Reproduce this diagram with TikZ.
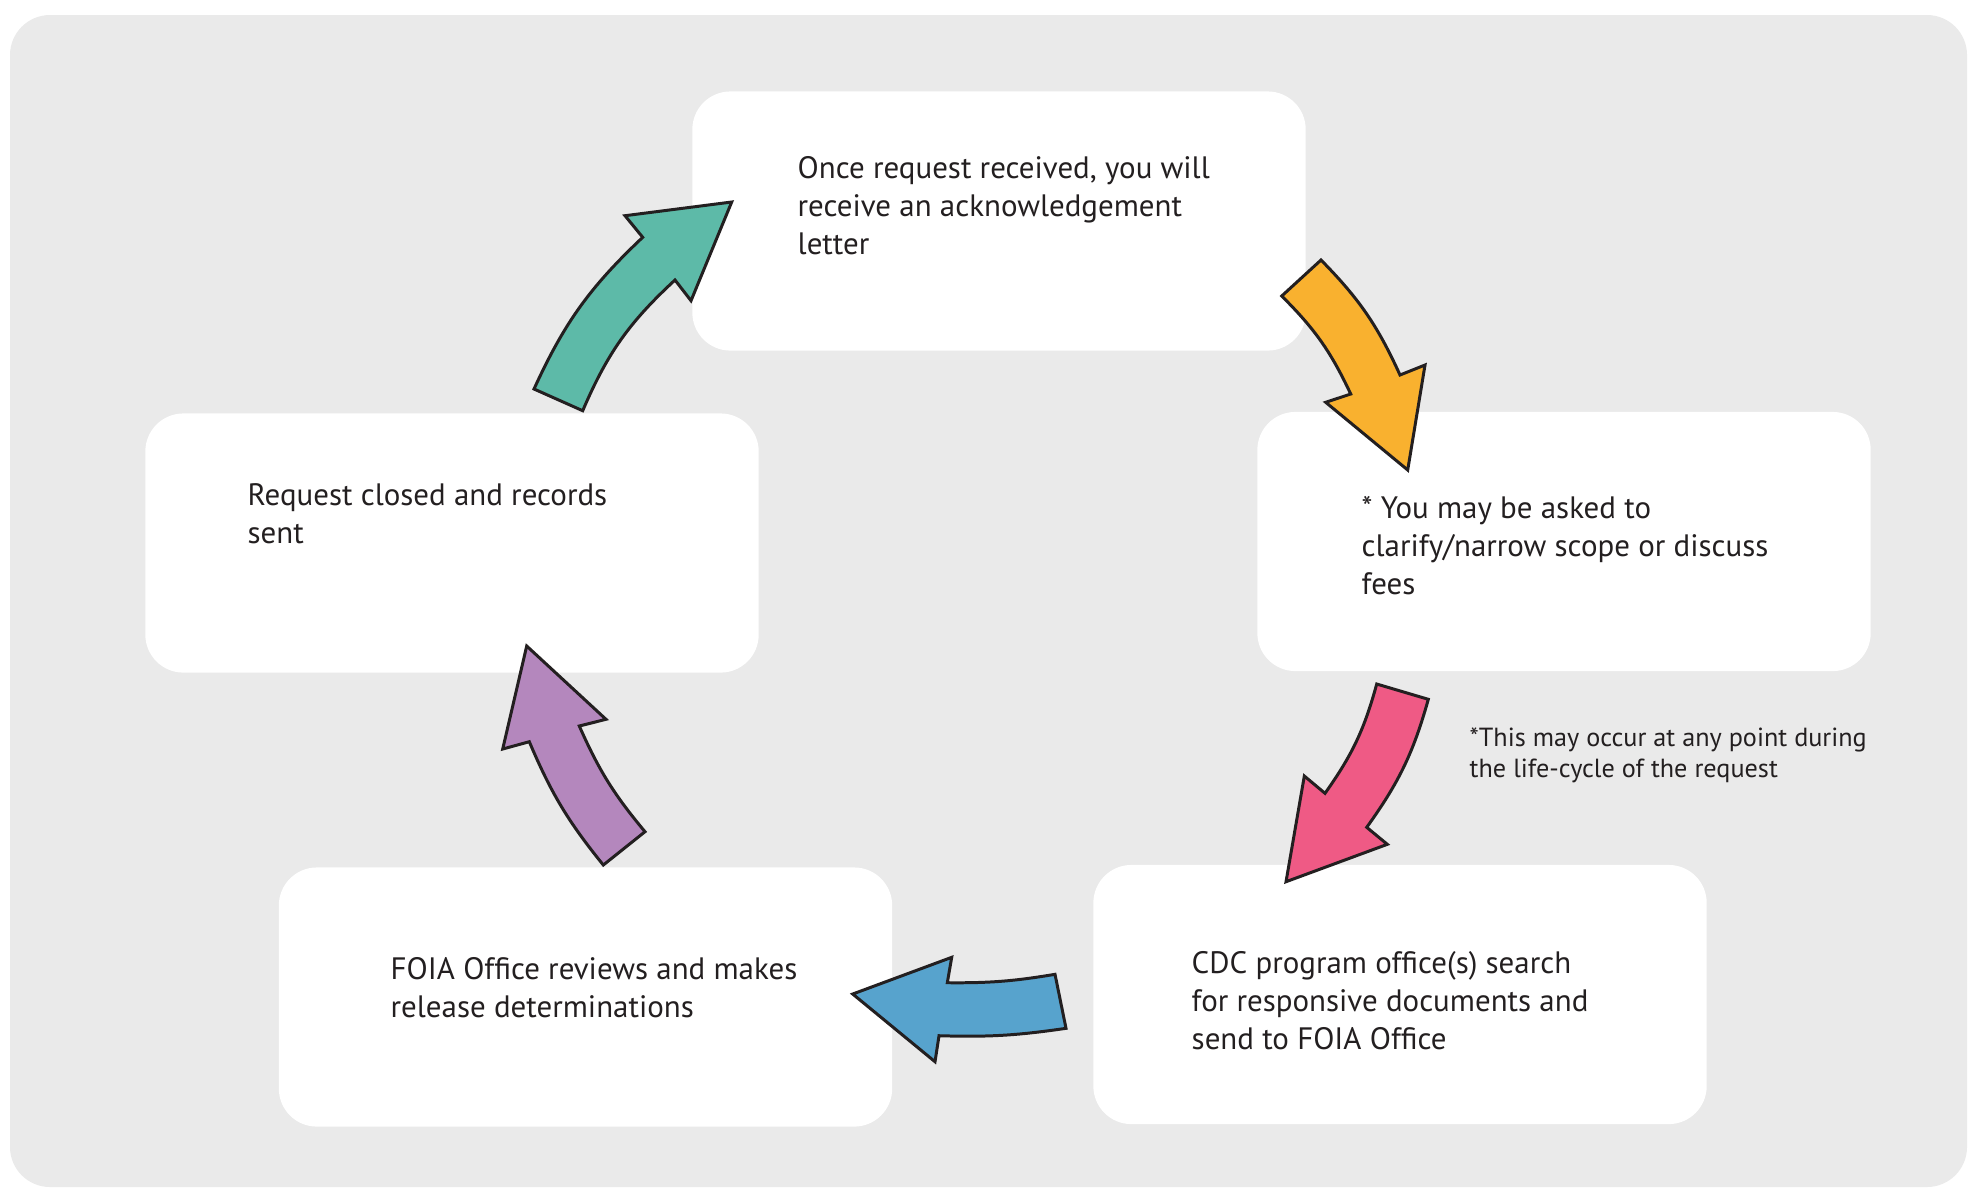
\documentclass[tikz,border=0pt]{standalone}
\usepackage{fontspec}
\setmainfont{PT Sans}
\definecolor{bggray}{HTML}{EAEAEA}
\definecolor{ink}{HTML}{231F20}
\definecolor{cgreen}{HTML}{5DBAA8}
\definecolor{corange}{HTML}{F9B12F}
\definecolor{cpink}{HTML}{EF5A85}
\definecolor{cblue}{HTML}{57A3CD}
\definecolor{cpurple}{HTML}{B487BD}
\tikzset{
  stepbox/.style={fill=white, draw=none, rounded corners=0.38cm, inner sep=0pt, minimum width=6.13cm, minimum height=2.59cm},
  steptext/.style={anchor=base west, inner sep=0pt, align=left, text=ink, font=\fontsize{8.8}{10.78}\selectfont},
  notetext/.style={anchor=base west, inner sep=0pt, align=left, text=ink, font=\fontsize{7.45}{8.54}\selectfont},
  blockarrow/.style={draw=ink, line width=0.85pt, line join=miter}
}
\begin{document}
\begin{tikzpicture}[x=0.01cm,y=-0.01cm]
\useasboundingbox (0,0) rectangle (1980,1187);
\fill[bggray, rounded corners=0.4cm] (10,15) rectangle (1967,1187);

\node[stepbox] (top) at (999,221) {};
\node[stepbox] (right) at (1564,541.5) {};
\node[stepbox] (botright) at (1400,994.5) {};
\node[stepbox] (botleft) at (585.5,997) {};
\node[stepbox] (left) at (452,543) {};

% base anchor = baseline of the last line
\node[steptext] (ttop) at (797,254) {Once request received, you will\\receive an acknowledgement\\letter};
\node[steptext] (tright) at (1361,594) {* You may be asked to\\clarify/narrow scope or discuss\\fees};
\node[steptext] (tbotright) at (1191,1049) {CDC program office(s) search\\for responsive documents and\\send to FOIA Office};
\node[steptext] (tbotleft) at (390,1017) {FOIA Office reviews and makes\\release determinations};
\node[steptext] (tleft) at (247,543) {Request closed and records\\sent};
\node[notetext] (note) at (1469,777) {*This may occur at any point during\\the life-cycle of the request};

% green arrow (left -> top)
\draw[blockarrow, fill=cgreen] (534,389) -- (582.7,410.7) to[bend left=12] (675,280) -- (691,300.7) -- (731.7,202) -- (625,215.7) -- (642.7,237.3) to[bend right=11] (534,389) -- cycle;
% orange arrow (top -> right)
\draw[blockarrow, fill=corange] (1281.7,296) -- (1321,260) to[bend left=10] (1400,375) -- (1425,365) -- (1407.7,470) -- (1325.7,402.3) -- (1350.7,394) to[bend right=10] (1281.7,296) -- cycle;
% pink arrow (right -> bottom right)
\draw[blockarrow, fill=cpink] (1376.7,684) -- (1428.3,699.3) to[bend left=10] (1366.7,827.3) -- (1387.3,844.3) -- (1286,881.7) -- (1304.3,776) -- (1325,793.3) to[bend right=10] (1376.7,684) -- cycle;
% blue arrow (bottom right -> bottom left)
\draw[blockarrow, fill=cblue] (1055,974.3) -- (1066,1028.3) to[bend left=5] (939,1035.7) -- (935,1061.7) -- (852.7,994) -- (951.7,957.3) -- (947.3,982.7) to[bend right=5] (1055,974.3) -- cycle;
% purple arrow (bottom left -> left)
\draw[blockarrow, fill=cpurple] (603.3,865) -- (645,831.7) to[bend left=8] (579.3,726) -- (606,719.3) -- (526.7,646) -- (502.7,749) -- (529.3,741.7) to[bend right=8] (603.3,865) -- cycle;
\end{tikzpicture}
\end{document}
